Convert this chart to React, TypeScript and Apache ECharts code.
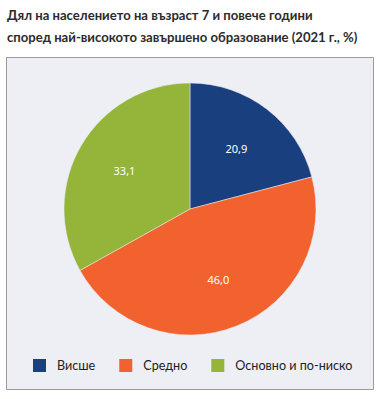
import React, { useEffect, useRef } from "react";
import * as echarts from "echarts";

const titleLines = [
  "Дял на населението на възраст 7 и повече години",
  "според най-високото завършено образование (2021 г., %)",
];
const categories = ["Висше", "Средно", "Основно и по-ниско"];
const values = [20.9, 46.0, 33.1];
const colors = ["#1A3F7E", "#F1622E", "#95B43A"];

export default function App() {
  const ref = useRef<HTMLDivElement>(null);
  useEffect(() => {
    document.body.style.margin = "0";
    const chart = echarts.init(ref.current!, null, { renderer: "svg" });
    const data = categories.map((name, i) => ({
      name,
      value: values[i],
      itemStyle: { color: colors[i] },
    }));
    chart.setOption({
      animation: false,
      backgroundColor: "#ffffff",
      title: {
        text: titleLines.join("\n"),
        left: 7,
        top: 4,
        padding: 0,
        textStyle: {
          fontFamily: "Lato",
          fontSize: 13.1,
          fontWeight: "bold",
          color: "#2b2b2b",
          lineHeight: 22,
        },
      },
      graphic: [
        {
          type: "rect",
          z: -10,
          shape: { x: 6.5, y: 57.5, width: 367, height: 332 },
          style: { fill: "#EEEFF5", stroke: "#9a9a9a", lineWidth: 1 },
        },
      ],
      legend: {
        data: categories,
        left: 31,
        top: 357,
        padding: 0,
        icon: "rect",
        itemWidth: 15,
        itemHeight: 15,
        itemGap: 22,
        textStyle: {
          fontFamily: "Lato",
          fontSize: 12.6,
          color: "#222",
          padding: [0, 0, 0, 5],
        },
      },
      series: [
        {
          type: "pie",
          center: [190, 209],
          radius: [0, 126],
          startAngle: 90,
          clockwise: true,
          data,
          label: { show: false },
          labelLine: { show: false },
          itemStyle: { borderColor: "#EEEFF5", borderWidth: 0.5 },
          emphasis: { disabled: true },
        },
        {
          type: "pie",
          silent: true,
          center: [190, 209],
          radius: [20, 126],
          startAngle: 90,
          clockwise: true,
          data: categories.map((name, i) => ({ name, value: values[i] })),
          itemStyle: { color: "transparent" },
          label: {
            show: true,
            position: "inside",
            color: "#ffffff",
            fontFamily: "Noto Sans",
            fontSize: 11,
            formatter: (p: any) => p.value.toFixed(1).replace(".", ","),
          },
          labelLine: { show: false },
          emphasis: { disabled: true },
        },
      ],
    });
    return () => chart.dispose();
  }, []);
  return (
    <div
      ref={ref}
      style={{ position: "absolute", left: 0, top: 0, width: 383, height: 399 }}
    />
  );
}
